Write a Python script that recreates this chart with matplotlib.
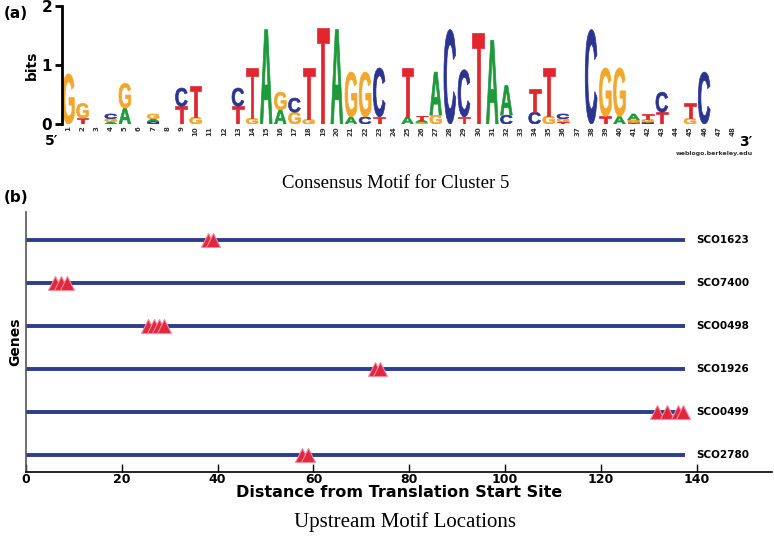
import numpy as np
import matplotlib
matplotlib.use('Agg')
import matplotlib.pyplot as plt
from matplotlib.textpath import TextPath
from matplotlib.patches import PathPatch
from matplotlib.font_manager import FontProperties
from matplotlib.transforms import Affine2D

# ---- panel (a): sequence logo, bits per base at positions 1..48
positions = np.arange(1, 49)
bits_A = [0, 0, 0, 0.04, 0.27, 0, 0.05, 0, 0, 0, 0, 0,
          0, 0, 1.60, 0.24, 0, 0, 0, 1.60, 0.12, 0, 0, 0,
          0.12, 0.04, 0.73, 0, 0, 0, 1.42, 0.50, 0, 0, 0, 0,
          0, 0, 0, 0.13, 0.10, 0, 0, 0, 0, 0, 0, 0]
bits_C = [0, 0, 0, 0.08, 0, 0, 0.04, 0, 0.31, 0, 0, 0,
          0.31, 0, 0, 0, 0.24, 0, 0, 0, 0, 0.12, 0.83, 0,
          0, 0, 0, 1.60, 0.80, 0, 0, 0.15, 0, 0.20, 0, 0.08,
          0, 1.60, 0, 0, 0, 0.03, 0.34, 0, 0, 0.88, 0, 0]
bits_G = [0.85, 0.25, 0, 0.05, 0.42, 0, 0.08, 0, 0, 0.12, 0, 0,
          0, 0.10, 0, 0.30, 0.20, 0.08, 0, 0, 0.76, 0.76, 0, 0,
          0, 0.03, 0.15, 0, 0, 0, 0, 0, 0, 0, 0.14, 0.05,
          0, 0, 0.82, 0.82, 0.04, 0.05, 0, 0, 0.10, 0, 0, 0]
bits_T = [0, 0.10, 0, 0, 0, 0, 0, 0, 0.30, 0.52, 0, 0,
          0.30, 0.85, 0, 0, 0, 0.87, 1.63, 0, 0, 0, 0.12, 0,
          0.83, 0.07, 0, 0, 0.12, 1.54, 0, 0, 0, 0.39, 0.81, 0.04,
          0, 0, 0.13, 0, 0.03, 0.09, 0.20, 0, 0.25, 0, 0, 0]
base_colors = {'A': '#1f9a3a', 'C': '#2b3591', 'G': '#f2a62c', 'T': '#e1262d'}

# ---- panel (b): motif sites upstream of each gene
genes = ['SCO1623', 'SCO7400', 'SCO0498', 'SCO1926', 'SCO0499', 'SCO2780']
gene_lengths = [137.5, 137.5, 137.5, 137.5, 137.5, 137.5]
sites = [[38.0, 39.1],
         [6.0, 7.3, 8.6],
         [25.5, 26.7, 27.8, 28.8],
         [72.9, 73.9],
         [131.7, 133.8, 136.1, 137.2],
         [57.6, 58.9]]

W, H = 774, 536
fig = plt.figure(figsize=(W / 100, H / 100), dpi=100)

def fx(px):
    return px / W

def fy(py):
    return 1 - py / H

letter_font = FontProperties(family='Liberation Sans', weight='bold')

def draw_letter(ax, ch, x, y0, h, width=0.84):
    tp = TextPath((0, 0), ch, size=1, prop=letter_font)
    bb = tp.get_extents()
    tr = (Affine2D().translate(-bb.x0, -bb.y0)
          .scale(width / bb.width, h / bb.height)
          .translate(x - width / 2, y0))
    c = base_colors[ch]
    ax.add_patch(PathPatch(tr.transform_path(tp), fc=c, ec=c, lw=0.5))

# logo axes
x_lo, x_hi = 0.55, 48.6
ax1 = fig.add_axes([fx(62), fy(124), (x_hi - x_lo) * 14.13 / W, 118 / H])
for i, p in enumerate(positions):
    stack = [('A', bits_A[i]), ('C', bits_C[i]), ('G', bits_G[i]), ('T', bits_T[i])]
    stack = sorted([s for s in stack if s[1] > 0], key=lambda s: s[1])
    y = 0
    for ch, h in stack:
        draw_letter(ax1, ch, p, y, h)
        y += h
ax1.set_xlim(x_lo, x_hi)
ax1.set_ylim(0, 2)
for s in ['top', 'right', 'bottom']:
    ax1.spines[s].set_visible(False)
ax1.spines['left'].set_linewidth(2)
ax1.set_yticks([0, 1, 2])
ax1.set_yticklabels(['0', '1', '2'], fontsize=11, fontweight='bold')
ax1.tick_params(axis='y', length=5, width=2, pad=2)
ax1.set_xticks(positions)
ax1.set_xticklabels([str(p) for p in positions], rotation=90, fontsize=5,
                    fontweight='bold', color='#333333')
ax1.tick_params(axis='x', length=0, pad=1.5)
ax1.set_ylabel('bits', fontsize=10, fontweight='bold', labelpad=2)

fig.text(fx(4), fy(14), '(a)', fontsize=11, fontweight='bold', va='center')
fig.text(fx(52), fy(141), '5\u2032', fontsize=10, fontweight='bold', va='center', ha='center')
fig.text(fx(746), fy(142), '3\u2032', fontsize=10, fontweight='bold', va='center', ha='center')
fig.text(fx(714), fy(154), 'weblogo.berkeley.edu', fontsize=4.5, fontweight='bold',
         va='center', ha='center', color='#333333')
fig.text(fx(396), fy(183), 'Consensus Motif for Cluster 5', fontsize=13.5,
         family='Liberation Serif', va='center', ha='center')

# gene location axes
ax2 = fig.add_axes([fx(26), fy(472), (772 - 26) / W, (472 - 212) / H])
ys = np.arange(len(genes), 0, -1)
for y, g, L, xs in zip(ys, genes, gene_lengths, sites):
    ax2.hlines(y, 0, L, color='#2e3d8c', lw=2.8, zorder=1)
    ax2.plot(xs, [y] * len(xs), '^', ms=9.5, mfc='#e2263b', mec='#f08aa0',
             mew=0.8, zorder=2)
    ax2.text(L + 2.3, y, g, fontsize=7.5, fontweight='bold', va='center', ha='left')
ax2.set_xlim(0, 155.7)
ax2.set_ylim(0.6, 6.65)
for s in ['top', 'right']:
    ax2.spines[s].set_visible(False)
ax2.spines['left'].set_color('#555555')
ax2.spines['left'].set_linewidth(1.2)
ax2.spines['bottom'].set_linewidth(1.2)
ax2.set_yticks([])
ax2.set_xticks([0, 20, 40, 60, 80, 100, 120, 140])
ax2.tick_params(axis='x', direction='in', length=6, width=1, pad=1, labelsize=9)
for lab in ax2.get_xticklabels():
    lab.set_fontweight('bold')
ax2.set_xlabel('Distance from Translation Start Site', fontsize=11.5,
               fontweight='bold', labelpad=-1)
ax2.set_ylabel('Genes', fontsize=10, fontweight='bold', labelpad=3)

fig.text(fx(4), fy(197), '(b)', fontsize=11, fontweight='bold', va='center')
fig.text(fx(405), fy(522), 'Upstream Motif Locations', fontsize=15,
         family='Liberation Serif', va='center', ha='center')

fig.savefig('out.png', dpi=100)
